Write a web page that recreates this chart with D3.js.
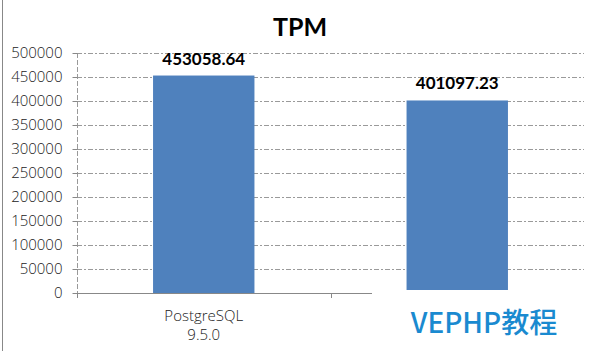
<!DOCTYPE html>
<html><head><meta charset="utf-8">
<script src="https://cdn.jsdelivr.net/npm/d3@7"></script>
<style>body{margin:0;background:#fff;}svg{display:block;}</style>
</head><body>
<svg id="c" width="596" height="351"></svg>
<script>
const categories = [["PostgreSQL","9.5.0"], ["", ""]];
const values = [453058.64, 401097.23];
const valueLabels = ["453058.64", "401097.23"];
const yTicks = [0,50000,100000,150000,200000,250000,300000,350000,400000,450000,500000];
const title = "TPM";
const watermark = "VEPHP教程";

const svg = d3.select("#c");
const m = {left:77, right:12, top:53, bottom:58};
const W = 596, H = 351;
const x = d3.scaleBand().domain(d3.range(values.length)).range([m.left, W - m.right]).paddingInner(0.6).paddingOuter(0.3);
const y = d3.scaleLinear().domain([0, 500000]).range([H - m.bottom, m.top]);

// left border
svg.append("line").attr("x1",2.5).attr("x2",2.5).attr("y1",0).attr("y2",H).attr("stroke","#888");

// gridlines
svg.append("g").selectAll("line").data(yTicks.filter(d=>d>0)).join("line")
  .attr("x1", m.left).attr("x2", W - m.right)
  .attr("y1", d=>Math.round(y(d))+0.5).attr("y2", d=>Math.round(y(d))+0.5)
  .attr("stroke","#9a9a9a").attr("stroke-dasharray","5,2,2,2");

// y axis
const yAxis = d3.axisLeft(y).tickValues(yTicks).tickSize(5).tickPadding(10).tickFormat(d3.format("d"));
const gy = svg.append("g").attr("transform",`translate(${m.left+0.5},0)`).call(yAxis);
gy.select(".domain").attr("stroke","#999").attr("stroke-dasharray","5,2").attr("d",`M0,${y(500000)}V${y(0)+5}`);
gy.selectAll(".tick line").attr("stroke","#888");
gy.selectAll("text").attr("font-family","'Open Sans', sans-serif").attr("font-size","15px").attr("fill","#222").attr("font-weight","300");

// bars
svg.append("g").selectAll("rect").data(values).join("rect")
  .attr("x",(d,i)=>x(i)).attr("width",x.bandwidth())
  .attr("y",d=>y(d)).attr("height",d=>y(0)-y(d))
  .attr("fill","#4f81bd");

// x axis
const full = d3.scaleBand().domain(d3.range(values.length)).range([m.left, W - m.right]);
svg.append("line").attr("x1",m.left).attr("x2",W-m.right).attr("y1",Math.round(y(0))+0.5).attr("y2",Math.round(y(0))+0.5).attr("stroke","#888");
svg.append("g").selectAll("line").data(d3.range(values.length+1)).join("line")
  .attr("x1",i=>Math.round(m.left + i*full.bandwidth())+0.5).attr("x2",i=>Math.round(m.left + i*full.bandwidth())+0.5)
  .attr("y1",y(0)).attr("y2",y(0)+5).attr("stroke","#888");
const cl = svg.append("g").selectAll("text").data(categories).join("text")
  .attr("x",(d,i)=>full(i)+full.bandwidth()/2).attr("y",321)
  .attr("text-anchor","middle").attr("font-family","'Open Sans', sans-serif").attr("font-size","15px").attr("font-weight","300").attr("fill","#222");
cl.each(function(d){
  const t = d3.select(this);
  d.forEach((s,k)=>t.append("tspan").attr("x",t.attr("x")).attr("dy",k?19:0).text(s));
});

// value labels
svg.append("g").selectAll("text").data(values).join("text")
  .attr("x",(d,i)=>x(i)+x.bandwidth()/2).attr("y",d=>y(d)-11)
  .attr("text-anchor","middle").attr("font-family","Lato, sans-serif").attr("font-weight","bold").attr("font-size","17px").attr("fill","#000")
  .text((d,i)=>valueLabels[i]);

// title
svg.append("text").attr("x",300).attr("y",36).attr("text-anchor","middle")
  .attr("font-family","Lato, sans-serif").attr("font-weight","bold").attr("font-size","25px").attr("fill","#000").text(title);

// watermark box
svg.append("rect").attr("x",372).attr("y",290).attr("width",W-372).attr("height",H-290).attr("fill","#fff");
svg.append("text").attr("x",484).attr("y",333).attr("text-anchor","middle")
  .attr("font-family","'Noto Sans CJK SC', sans-serif").attr("font-weight","500").attr("font-size","28px").attr("fill","#1a8ad0").text(watermark);
</script>
</body></html>
